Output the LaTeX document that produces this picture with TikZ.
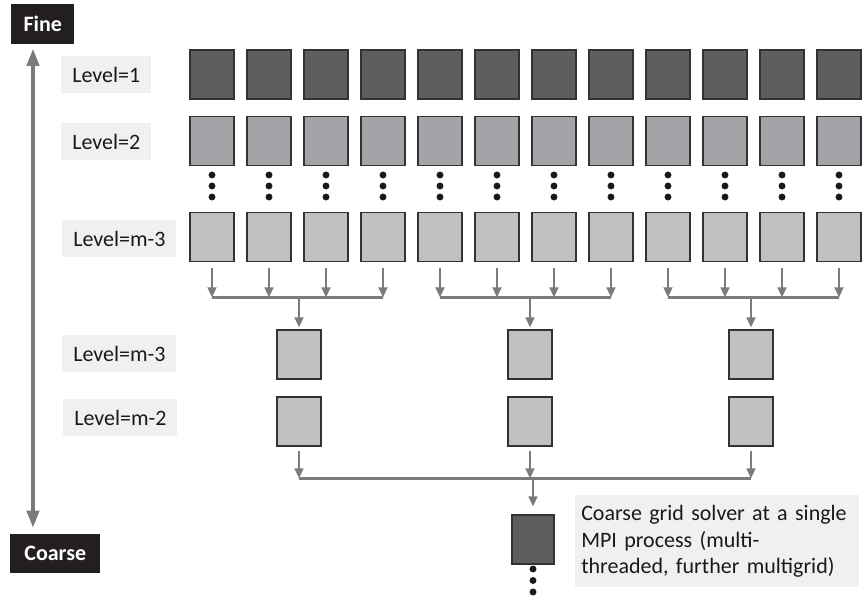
\documentclass[tikz,border=0pt]{standalone}
\usepackage{fontspec}
\setmainfont{Carlito}
\usetikzlibrary{arrows.meta,calc}
\definecolor{dk}{HTML}{5E5E60}
\definecolor{md}{HTML}{A3A4A7}
\definecolor{lt}{HTML}{BFC0C2}
\definecolor{arrc}{HTML}{7A7B7E}
\definecolor{lblbg}{HTML}{F0F0F2}
\definecolor{tagbg}{HTML}{231F20}
\begin{document}
\begin{tikzpicture}[x=0.75pt,y=-0.75pt,
  font=\fontsize{16.5}{20}\selectfont,
  sq/.style={draw=black!80, line width=0.8pt, minimum width=33pt, minimum height=36.75pt, inner sep=0pt},
  lbl/.style={fill=lblbg, inner xsep=8.25pt, inner ysep=0pt, minimum height=27.75pt, text=black!90},
  tag/.style={fill=tagbg, text=white, font=\fontsize{16.5}{20}\selectfont\bfseries, inner sep=0pt},
  bar/.style={draw=arrc, line width=1.8pt},
  arr/.style={draw=arrc, line width=1.6pt, -{Triangle[width=6.5pt,length=7.5pt]}},
  big/.style={draw=arrc, line width=3pt, {Triangle[width=9pt,length=13pt]}-{Triangle[width=9pt,length=13pt]}},
  dot/.style={fill=black!90}
]
\useasboundingbox (0,0) rectangle (868,603);

% tags
\node[tag, anchor=north west, minimum width=47.25pt, minimum height=30pt] (fine) at (11,4) {Fine};
\node[tag, anchor=north west, minimum width=67.5pt, minimum height=29.25pt] (coarse) at (10,534) {Coarse};
\coordinate (ftop) at ($(fine.south west)+(22,4)$);
\coordinate (cbot) at ($(coarse.north west)+(23,-6)$);
\draw[big] (cbot) -- (ftop);

% level labels
\node[lbl, anchor=west] (l1) at (61,74.5) {Level=1};
\node[lbl, anchor=west] (l2) at (61,141.5) {Level=2};
\node[lbl, anchor=west] (l3) at (62,238.5) {Level=m-3};
\node[lbl, anchor=west] (l4) at (62,353.5) {Level=m-3};
\node[lbl, anchor=west] (l5) at (63,417.5) {Level=m-2};

% fine rows
\foreach \i in {0,...,11}{
  \pgfmathsetmacro\xx{212+57*\i}
  \node[sq,fill=dk] (a\i) at (\xx,74.5) {};
  \node[sq,fill=md] (b\i) at (\xx,141) {};
  \node[sq,fill=lt] (c\i) at (\xx,237) {};
  \foreach \d in {175,186,197} \fill[dot] (\xx,\d) circle (2.6pt);
}

% lower squares
\node[sq,fill=lt] (g1) at (299,354.5) {};
\node[sq,fill=lt] (g2) at (530,354.5) {};
\node[sq,fill=lt] (g3) at (751,354.5) {};
\node[sq,fill=lt] (h1) at (299,421.5) {};
\node[sq,fill=lt] (h2) at (530,421.5) {};
\node[sq,fill=lt] (h3) at (751,421.5) {};
\node[sq,fill=dk,minimum width=31.5pt] (cs) at (533,539.5) {};
\foreach \d in {569,580.5,592} \fill[dot] (533,\d) circle (2.6pt);

% group merges
\coordinate (j1) at ($(g1.north)+(0,-32)$);
\coordinate (j2) at ($(g2.north)+(0,-32)$);
\coordinate (j3) at ($(g3.north)+(0,-32)$);
\draw[bar] (c0 |- j1) -- (c3 |- j1);
\draw[bar] (c4 |- j2) -- (c7 |- j2);
\draw[bar] (c8 |- j3) -- (c11 |- j3);
\foreach \i in {0,...,11}{
  \pgfmathtruncatemacro\gg{int(\i/4)+1}
  \draw[arr] ($(c\i.south)+(0,6)$) -- (c\i.south |- j\gg);
}
\foreach \g in {1,2,3}{
  \draw[arr, shorten >=1.5pt] (j\g) -- (g\g.north);
}

% final merge
\coordinate (k) at ($(cs.north)+(0,-36)$);
\draw[bar] (h1 |- k) -- (h3 |- k);
\foreach \g in {1,2,3}{
  \draw[arr] ($(h\g.south)+(0,4)$) -- (h\g.south |- k);
}
\draw[arr, shorten >=6pt] (k) -- (cs.north);

% note
\node[lbl, anchor=north west, text width=204pt, align=left, minimum height=69pt, inner xsep=4.5pt] (note) at (575,495)
  {Coarse grid solver at a single\\MPI process (multi-\\threaded, further multigrid)};
\end{tikzpicture}
\end{document}
